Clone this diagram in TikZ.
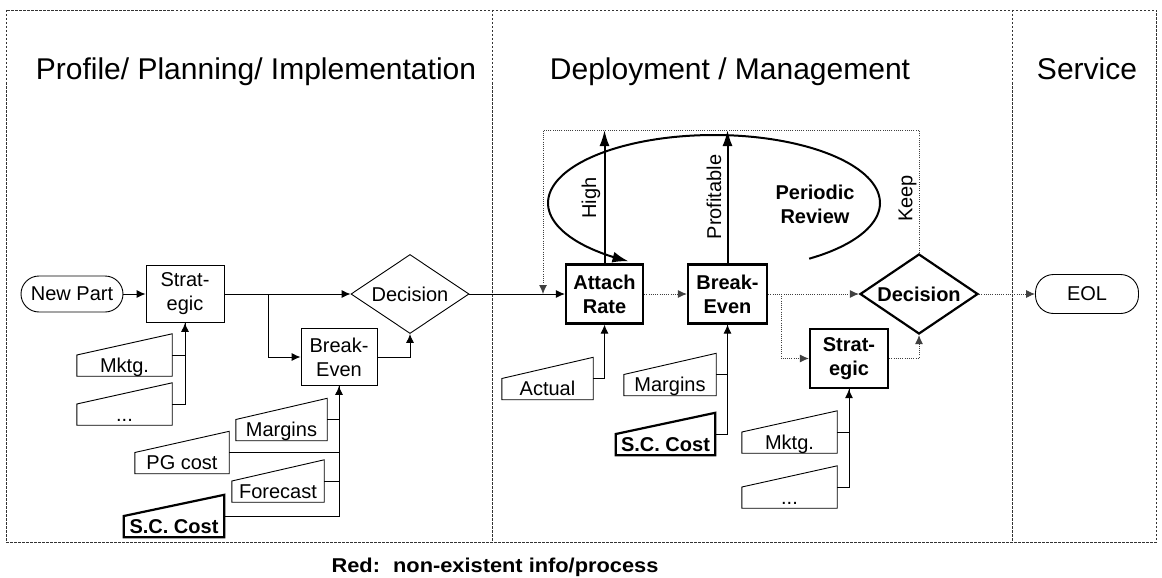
\documentclass[tikz,border=0pt]{standalone}
\usepackage{fontspec}
\setmainfont{Liberation Sans}
\usetikzlibrary{arrows.meta,shapes.geometric,calc}
\newcommand{\boxfont}{\fontsize{20}{24}\selectfont}
\newcommand{\titlefont}{\fontsize{30}{36}\selectfont}
\begin{document}
\begin{tikzpicture}[x=1pt,y=-1pt,
  every node/.style={inner sep=0pt, font=\boxfont},
  proc/.style={draw, line width=0.9pt, align=center},
  tproc/.style={draw, line width=2.2pt, align=center, font=\boxfont\bfseries},
  dia/.style={diamond, draw, line width=0.9pt, minimum width=118pt, minimum height=79pt, aspect=1.5},
  tdia/.style={dia, line width=2.2pt, font=\boxfont\bfseries},
  term/.style={draw, line width=0.9pt, rounded corners=18pt},
  inp/.style={minimum width=#1, text height=38pt, text depth=4pt},
  rot/.style={rotate=90},
  thin/.style={line width=0.9pt},
  conn/.style={line width=0.9pt, -{Latex[length=9pt,width=8pt]}},
  dotc/.style={line width=0.9pt, black!75, dash pattern=on 1pt off 1.2pt},
  dconn/.style={dotc, -{Latex[length=9pt,width=8pt]}},
  bigarrow/.style={line width=2pt, -{Latex[length=16pt,width=10pt]}},
  frame/.style={line width=0.7pt, black!80, dash pattern=on 2.5pt off 1.5pt}
]
\useasboundingbox (0,0) rectangle (1162,578);

% frame and dividers
\draw[frame] (6,10) rectangle (1156,542);
\draw[frame] (492,10) -- (492,542);
\draw[frame] (1012,10) -- (1012,542);

% titles
\node[font=\titlefont, anchor=base] (t1) at (256,80) {Profile/ Planning/ Implementation};
\node[font=\titlefont, anchor=base] (t2) at (730,80) {Deployment / Management};
\node[font=\titlefont, anchor=base] (t3) at (1087,80) {Service};

% ---------- left section
\node[term, minimum width=102pt, minimum height=36pt] (np) at (72,294) {New Part};
\node[proc, minimum width=78pt, minimum height=57pt] (st1) at (185,294) {Strat-\\egic};
\node[dia] (dec1) at (410,294) {Decision};
\node[proc, minimum width=76pt, minimum height=57pt] (be1) at (339,357) {Break-\\Even};

\node[inp=95pt] (mk1) at (124.5,355) {Mktg.};
\node[inp=95pt] (dots1) at (124.5,404) {...};
\node[inp=91pt] (mg1) at (281.5,419.5) {Margins};
\node[inp=94pt] (pg1) at (182,452.5) {PG cost};
\node[inp=92pt] (fc1) at (278,481) {Forecast};
\node[inp=100pt, font=\boxfont\bfseries] (sc1) at (174,516) {S.C. Cost};

% ---------- middle section
\node[tproc, minimum width=77pt, minimum height=59pt] (att) at (604.5,294) {Attach\\Rate};
\node[tproc, minimum width=79pt, minimum height=59pt] (be2) at (727.5,294) {Break-\\Even};
\node[tdia, minimum height=80pt] (dec2) at (919,294) {Decision};
\node[tproc, minimum width=78pt, minimum height=59pt] (st2) at (849,358.5) {Strat-\\egic};

\node[inp=91pt] (act) at (547.5,378.5) {Actual};
\node[inp=92pt] (mg2) at (670,374.5) {Margins};
\node[inp=99pt, font=\boxfont\bfseries] (sc2) at (665.5,434) {S.C. Cost};
\node[inp=95pt] (mk2) at (789.5,432) {Mktg.};
\node[inp=95pt] (dots2) at (789.5,487) {...};

% ---------- right section
\node[term, minimum width=103pt, minimum height=39pt] (eol) at (1087,294) {EOL};

% manual-input shapes
\foreach \n in {mk1,dots1,mg1,pg1,fc1,act,mg2,mk2,dots2}
  \draw[thin] (\n.south west) -- (\n.south east) -- (\n.north east) -- (\n.west) -- cycle;
\foreach \n in {sc1,sc2}
  \draw[line width=2.2pt, line join=miter] (\n.south west) -- (\n.south east) -- (\n.north east) -- (\n.west) -- cycle;

% ---------- connectors left
\coordinate (j1) at (268,294);
\draw[conn] (np) -- (st1);
\draw[conn] (st1) -- (dec1);
\draw[conn] (j1) |- (be1.west);
\draw[conn] (be1.east) -| (dec1.south);
\draw[thin] (mk1.east) -| (st1.south);
\draw[conn] (dots1.east) -| (st1.south);
\draw[thin] (mg1.east) -| (be1.south);
\draw[thin] (pg1.east) -| (be1.south);
\draw[thin] (fc1.east) -| (be1.south);
\draw[conn] (sc1.east) -| (be1.south);

% ---------- connectors middle
\coordinate (lt) at (543,130);
\coordinate (lb) at (543,294);
\coordinate (j2) at (781,294);
\draw[conn] (dec1) -- (att);
\draw[dconn] (att) -- (be2);
\draw[dconn] (be2) -- (dec2);
\draw[dconn] (j2) |- (st2.west);
\draw[dconn] (st2.east) -| (dec2.south);
\draw[dconn] (dec2) -- (eol);
\draw[dconn] (dec2.north) |- (lt) -- (lb);
\draw[bigarrow] (att.north) -- (att.north |- lt);
\draw[bigarrow] (be2.north) -- (be2.north |- lt);
\draw[conn] (act.east) -| (att.south);
\draw[thin] (mg2.east) -| (be2.south);
\draw[conn] (sc2.east) -| (be2.south);
\draw[thin] (mk2.east) -| (st2.south);
\draw[conn] (dots2.east) -| (st2.south);

% periodic review loop
\draw[line width=2pt, -{Latex[length=16pt,width=11pt]}]
  plot[domain=0:294, samples=60, smooth] ({714+166*cos(55-\x)}, {203+68*sin(55-\x)});
\node[font=\boxfont\bfseries, align=center] (pr) at (815,204) {Periodic\\Review};

% edge labels
\node[rot] (lh) at (591,198) {High};
\node[rot] (lp) at (714,197) {Profitable};
\node[rot] (lk) at (907.5,198.5) {Keep};

% legend
\node[anchor=base, font=\boxfont\bfseries] (leg) at (495,572) {\scalebox{1.09}[1]{Red:\hspace{12pt}non-existent info/process}};
\end{tikzpicture}
\end{document}
